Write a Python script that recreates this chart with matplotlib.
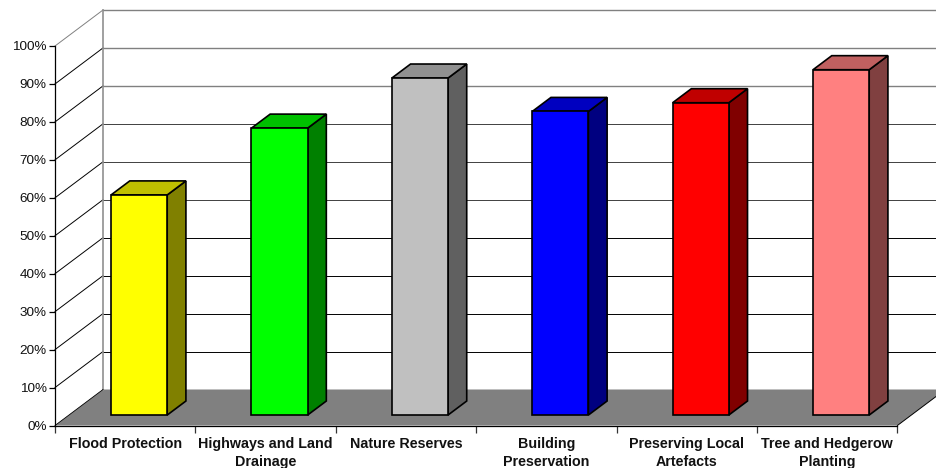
import matplotlib
matplotlib.use("Agg")
import matplotlib.pyplot as plt
from matplotlib.patches import Polygon

categorias = ["Flood Protection", "Highways and Land\nDrainage", "Nature Reserves",
              "Building\nPreservation", "Preserving Local\nArtefacts", "Tree and Hedgerow\nPlanting"]
valores = [58, 75.6, 88.8, 80, 82.3, 91]
cor_frente = ["#FFFF00", "#00FF00", "#C0C0C0", "#0000FF", "#FF0000", "#FF8080"]
cor_topo = ["#C0C000", "#00C000", "#909090", "#0000C0", "#C00000", "#C06060"]
cor_lado = ["#808000", "#008000", "#606060", "#000080", "#800000", "#804040"]
marcas_y = list(range(0, 101, 10))

plt.rcParams["font.family"] = ["Liberation Sans", "DejaVu Sans"]

# escala: pixels por unidade da categoria e por ponto percentual
px_x = 140.4
px_y = 3.795
x0 = 55.0
y0 = 425.5
prof_x = 48 / px_x
prof_y = 36 / px_y


def proj(x, y, d):
    return (x + d * prof_x, y + d * prof_y)


fig = plt.figure(figsize=(9.36, 4.68), dpi=100)
ax = fig.add_axes([0, 0, 1, 1])
ax.set_xlim(-x0 / px_x, (936 - x0) / px_x)
ax.set_ylim(-(468 - y0) / px_y, y0 / px_y)

# chao
ax.add_patch(Polygon([proj(0, 0, 0), proj(6, 0, 0), proj(6, 0, 1), proj(0, 0, 1)],
                     facecolor="#808080", edgecolor="none", zorder=1))
ax.plot(*zip(proj(6, 0, 0), proj(6, 0, 1)), color="black", lw=0.7, zorder=2)

# grade
for v in marcas_y[1:]:
    cinza = "#808080" if v >= 80 else "#404040" if v >= 50 else "black"
    ax.plot(*zip(proj(0, v, 1), proj(7, v, 1)), color=cinza, lw=1.0 if v >= 80 else 0.7, zorder=1)
    ax.plot(*zip(proj(0, v, 0), proj(0, v, 1)), color="#808080" if v == 100 else "black", lw=0.7, zorder=1)
ax.plot(*zip(proj(0, 0, 1), proj(0, 100, 1)), color="#909090", lw=1.2, zorder=1)
ax.plot(*zip(proj(0, 0, 0), proj(0, 0, 1)), color="black", lw=0.6, zorder=1)

# barras
d0 = 0.29
d1 = 0.68
for i, v in enumerate(valores):
    e = i + 0.3
    r = i + 0.7
    estilo = dict(edgecolor="black", linewidth=1.2, joinstyle="miter", zorder=3)
    ax.add_patch(Polygon([proj(r, 0, d0), proj(r, 0, d1), proj(r, v, d1), proj(r, v, d0)],
                         facecolor=cor_lado[i], **estilo))
    ax.add_patch(Polygon([proj(e, v, d0), proj(r, v, d0), proj(r, v, d1), proj(e, v, d1)],
                         facecolor=cor_topo[i], **estilo))
    ax.add_patch(Polygon([proj(e, 0, d0), proj(r, 0, d0), proj(r, v, d0), proj(e, v, d0)],
                         facecolor=cor_frente[i], **estilo))

# eixos
for lado in ["top", "right"]:
    ax.spines[lado].set_visible(False)
ax.spines["left"].set_position(("data", 0))
ax.spines["bottom"].set_position(("data", 0))
ax.spines["left"].set_bounds(0, 100)
ax.spines["bottom"].set_bounds(0, 6)
ax.spines["left"].set_linewidth(0.9)
ax.spines["bottom"].set_linewidth(0.9)
ax.spines["left"].set_zorder(4)
ax.spines["bottom"].set_zorder(4)

ax.set_yticks(marcas_y)
ax.set_yticklabels([str(v) + "%" for v in marcas_y], fontsize=9.7, color="#111111")
ax.tick_params(axis="y", length=4.5, width=0.9, pad=1.5, direction="out")

ax.set_xticks(range(7))
ax.set_xticklabels([""] * 7)
ax.tick_params(axis="x", which="major", length=5, width=0.9, color="#333333")
ax.set_xticks([i + 0.5 for i in range(6)], minor=True)
ax.set_xticklabels(categorias, minor=True, fontsize=10.3, fontweight="bold", linespacing=1.35, color="#111111")
ax.tick_params(axis="x", which="minor", length=0, pad=8.5)

ax.patch.set_visible(False)
plt.savefig("out.png", dpi=100)
